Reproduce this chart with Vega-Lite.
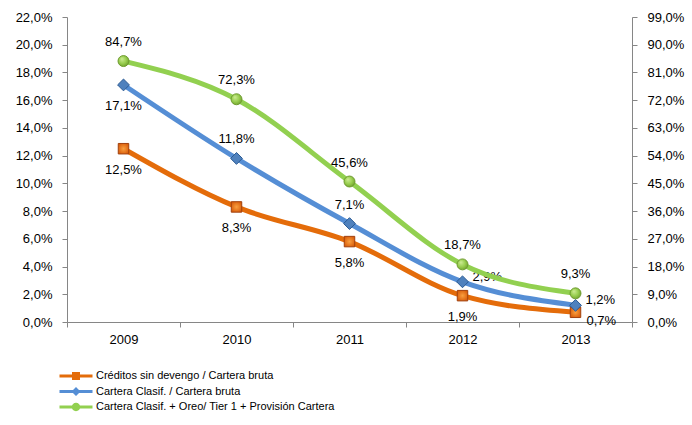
{
  "$schema": "https://vega.github.io/schema/vega-lite/v6.json",
  "width": 565,
  "height": 305,
  "autosize": {"type": "none"},
  "padding": {"left": 67, "top": 17, "right": 60, "bottom": 103},
  "background": "white",
  "config": {
    "locale": {"number": {"decimal": ",", "thousands": ".", "grouping": [3], "currency": ["", " €"]}},
    "view": {"stroke": null},
    "font": "Liberation Sans",
    "axis": {
      "domainColor": "#868686",
      "tickColor": "#868686",
      "tickSize": 5,
      "labelColor": "#000000",
      "labelFontSize": 13,
      "labelFont": "Liberation Sans",
      "grid": false,
      "title": null
    }
  },
  "datasets": {
    "d": [
      {"year": "2009", "series": "Créditos sin devengo / Cartera bruta", "value": 0.125},
      {"year": "2010", "series": "Créditos sin devengo / Cartera bruta", "value": 0.083},
      {"year": "2011", "series": "Créditos sin devengo / Cartera bruta", "value": 0.058},
      {"year": "2012", "series": "Créditos sin devengo / Cartera bruta", "value": 0.019},
      {"year": "2013", "series": "Créditos sin devengo / Cartera bruta", "value": 0.007},
      {"year": "2009", "series": "Cartera Clasif. / Cartera bruta", "value": 0.171},
      {"year": "2010", "series": "Cartera Clasif. / Cartera bruta", "value": 0.118},
      {"year": "2011", "series": "Cartera Clasif. / Cartera bruta", "value": 0.071},
      {"year": "2012", "series": "Cartera Clasif. / Cartera bruta", "value": 0.029},
      {"year": "2013", "series": "Cartera Clasif. / Cartera bruta", "value": 0.012},
      {"year": "2009", "series": "Cartera Clasif. + Oreo/ Tier 1 + Provisión Cartera", "value": 0.847},
      {"year": "2010", "series": "Cartera Clasif. + Oreo/ Tier 1 + Provisión Cartera", "value": 0.723},
      {"year": "2011", "series": "Cartera Clasif. + Oreo/ Tier 1 + Provisión Cartera", "value": 0.456},
      {"year": "2012", "series": "Cartera Clasif. + Oreo/ Tier 1 + Provisión Cartera", "value": 0.187},
      {"year": "2013", "series": "Cartera Clasif. + Oreo/ Tier 1 + Provisión Cartera", "value": 0.093}
    ]
  },
  "data": {"name": "d"},
  "encoding": {
    "x": {
      "field": "year",
      "type": "ordinal",
      "scale": {"type": "band", "paddingInner": 0, "paddingOuter": 0},
      "axis": {"labelAngle": 0, "tickBand": "extent", "labelPadding": 6}
    }
  },
  "layer": [
    {
      "transform": [{"filter": "datum.series != 'Cartera Clasif. + Oreo/ Tier 1 + Provisión Cartera'"}],
      "encoding": {
        "y": {
          "field": "value",
          "type": "quantitative",
          "scale": {"domain": [0, 0.22], "nice": false},
          "axis": {
            "orient": "left",
            "values": [0, 0.02, 0.04, 0.06, 0.08, 0.1, 0.12, 0.14, 0.16, 0.18, 0.2, 0.22],
            "format": ".1%",
            "labelPadding": 10
          }
        }
      },
      "layer": [
        {
          "mark": {"type": "line", "interpolate": "monotone", "strokeWidth": 5},
          "encoding": {
            "color": {
              "field": "series",
              "type": "nominal",
              "scale": {
                "domain": ["Cartera Clasif. / Cartera bruta", "Créditos sin devengo / Cartera bruta"],
                "range": ["#558ED5", "#E46C0A"]
              },
              "legend": null
            },
            "order": {"field": "series", "sort": "ascending"}
          }
        },
        {
          "transform": [{"filter": "datum.series == 'Créditos sin devengo / Cartera bruta'"}],
          "mark": {
            "type": "point",
            "shape": "square",
            "size": 110,
            "filled": true,
            "opacity": 1,
            "fill": {"gradient": "radial", "x1": 0.5, "y1": 0.5, "r1": 0, "x2": 0.5, "y2": 0.5, "r2": 0.6,
              "stops": [{"offset": 0, "color": "#F9A040"}, {"offset": 1, "color": "#D85A08"}]},
            "stroke": "#A0400E",
            "strokeWidth": 1
          }
        },
        {
          "transform": [{"filter": "datum.series == 'Cartera Clasif. / Cartera bruta'"}],
          "mark": {
            "type": "point",
            "shape": "diamond",
            "size": 140,
            "filled": true,
            "opacity": 1,
            "fill": "#4F81BD",
            "stroke": "#2C5B93",
            "strokeWidth": 1
          }
        },
        {
          "transform": [{"filter": "(datum.series == 'Créditos sin devengo / Cartera bruta' && datum.year != '2013') || (datum.series == 'Cartera Clasif. / Cartera bruta' && datum.year == '2009')"}],
          "mark": {"type": "text", "fontSize": 13, "dy": 21, "baseline": "middle", "align": "center", "color": "#000000"},
          "encoding": {"text": {"field": "value", "type": "quantitative", "format": ".1%"}}
        },
        {
          "transform": [{"filter": "datum.series == 'Cartera Clasif. / Cartera bruta' && (datum.year == '2010' || datum.year == '2011')"}],
          "mark": {"type": "text", "fontSize": 13, "dy": -19, "baseline": "middle", "align": "center", "color": "#000000"},
          "encoding": {"text": {"field": "value", "type": "quantitative", "format": ".1%"}}
        },
        {
          "transform": [{"filter": "datum.series == 'Cartera Clasif. / Cartera bruta' && (datum.year == '2012' || datum.year == '2013')"}],
          "mark": {"type": "text", "fontSize": 13, "dx": 10, "dy": -5, "baseline": "middle", "align": "left", "color": "#000000"},
          "encoding": {"text": {"field": "value", "type": "quantitative", "format": ".1%"}}
        },
        {
          "transform": [{"filter": "datum.series == 'Créditos sin devengo / Cartera bruta' && datum.year == '2013'"}],
          "mark": {"type": "text", "fontSize": 13, "dx": 11, "dy": 9, "baseline": "middle", "align": "left", "color": "#000000"},
          "encoding": {"text": {"field": "value", "type": "quantitative", "format": ".1%"}}
        }
      ]
    },
    {
      "transform": [{"filter": "datum.series == 'Cartera Clasif. + Oreo/ Tier 1 + Provisión Cartera'"}],
      "encoding": {
        "y": {
          "field": "value",
          "type": "quantitative",
          "scale": {"domain": [0, 0.99], "nice": false},
          "axis": {
            "orient": "right",
            "values": [0, 0.09, 0.18, 0.27, 0.36, 0.45, 0.54, 0.63, 0.72, 0.81, 0.9, 0.99],
            "format": ".1%",
            "labelPadding": 10
          }
        }
      },
      "layer": [
        {
          "mark": {"type": "line", "interpolate": "monotone", "strokeWidth": 5, "color": "#92D050"}
        },
        {
          "mark": {
            "type": "point",
            "shape": "circle",
            "size": 120,
            "filled": true,
            "opacity": 1,
            "fill": {"gradient": "radial", "x1": 0.35, "y1": 0.3, "r1": 0, "x2": 0.45, "y2": 0.45, "r2": 0.6,
              "stops": [{"offset": 0, "color": "#CDEC94"}, {"offset": 0.6, "color": "#96CC4C"}, {"offset": 1, "color": "#6E9E2E"}]},
            "stroke": "#6F9C30",
            "strokeWidth": 1
          }
        },
        {
          "mark": {"type": "text", "fontSize": 13, "dy": -19, "baseline": "middle", "align": "center", "color": "#000000"},
          "encoding": {"text": {"field": "value", "type": "quantitative", "format": ".1%"}}
        }
      ]
    },
    {
      "mark": {"type": "point", "filled": true, "opacity": 0},
      "encoding": {
        "fill": {
          "field": "series",
          "type": "nominal",
          "scale": {
            "domain": ["Créditos sin devengo / Cartera bruta", "Cartera Clasif. / Cartera bruta", "Cartera Clasif. + Oreo/ Tier 1 + Provisión Cartera"],
            "range": ["#E46C0A", "#558ED5", "#92D050"]
          },
          "legend": {
            "orient": "none",
            "legendX": -1,
            "legendY": 349,
            "direction": "vertical",
            "title": null,
            "padding": 0,
            "labelFontSize": 11,
            "labelFont": "Liberation Sans",
            "labelColor": "#000000",
            "labelOffset": 10,
            "symbolSize": 400,
            "symbolStrokeWidth": 0,
            "rowPadding": 0.5,
            "labelLimit": 400,
            "encode": {
              "symbols": {
                "update": {
                  "opacity": {"value": 1},
                  "fillOpacity": {"value": 1}
                }
              }
            }
          }
        },
        "shape": {
          "field": "series",
          "type": "nominal",
          "scale": {
            "domain": ["Créditos sin devengo / Cartera bruta", "Cartera Clasif. / Cartera bruta", "Cartera Clasif. + Oreo/ Tier 1 + Provisión Cartera"],
            "range": [
              "M-1.65,-0.15H1.65V0.15H-1.65Z M-0.4,-0.4H0.4V0.4H-0.4Z",
              "M-1.65,-0.15H1.65V0.15H-1.65Z M-0.45,0L0,-0.45L0.45,0L0,0.45Z",
              "M-1.65,-0.15H1.65V0.15H-1.65Z M-0.42,0A0.42,0.42,0,1,1,0.42,0A0.42,0.42,0,1,1,-0.42,0Z"
            ]
          }
        }
      }
    }
  ],
  "resolve": {"scale": {"y": "independent"}}
}
